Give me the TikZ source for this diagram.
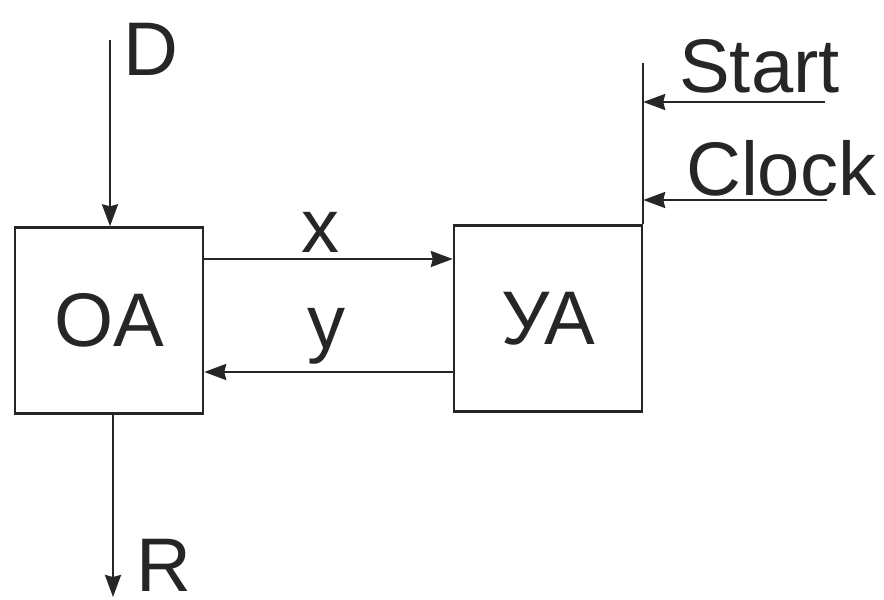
\documentclass[tikz,border=0pt]{standalone}
\usepackage{fontspec}
\setmainfont{Liberation Sans}
\usetikzlibrary{arrows.meta}

\begin{document}
\begin{tikzpicture}[x=0.5pt,y=-0.5pt,line width=1.2pt,black!85,
  >={Stealth[length=11pt,width=8pt,inset=1pt]},
  unit/.style={draw,minimum width=94pt,minimum height=93pt,inner sep=0pt,
    font=\fontsize{38}{40}\selectfont},
  lbl/.style={inner sep=0pt,anchor=base west,font=\fontsize{38}{40}\selectfont}]
\useasboundingbox (0,0) rectangle (884,600);
% блоки
\node[unit] (oa) at (109,320.5) {OA};
\node[unit] (ya) at (548,318.5) {УА};
% вход D и выход R
\coordinate (din) at (110,40);
\coordinate (rout) at (113,597);
\draw[->] (din) -- (din |- oa.north);
\draw[->] (rout |- oa.south) -- (rout);
\node[lbl] (dl) at (122,75) {D};
\node[lbl] (rl) at (135,591) {R};
% связи x и y
\coordinate (xl) at (0,259);
\coordinate (yl) at (0,372);
\draw[->] (oa.east |- xl) -- (ya.west |- xl);
\draw[->] (ya.west |- yl) -- (oa.east |- yl);
\node[lbl,anchor=base] (xt) at (320,252) {x};
\node[lbl,anchor=base] (yt) at (326,348) {y};
% Start и Clock
\coordinate (top) at (641,63);
\coordinate (st) at (825,102);
\coordinate (ck) at (827,200);
\draw (ya.north east) -- (ya.north east |- top);
\draw[->] (st) -- (ya.east |- st);
\draw[->] (ck) -- (ya.east |- ck);
\node[lbl] (stl) at (678,92) {Start};
\node[lbl] (ckl) at (685,195) {Clock};
\end{tikzpicture}
\end{document}
